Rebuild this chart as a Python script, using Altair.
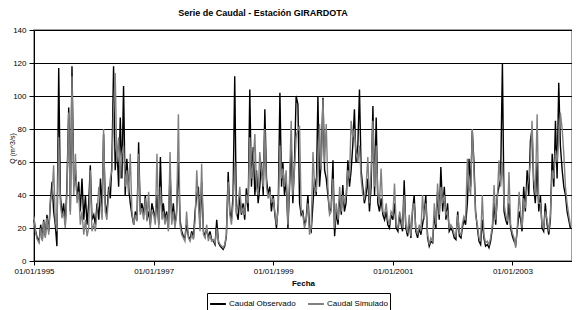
import altair as alt
import pandas as pd

years = [1995, 1996, 1997, 1998, 1999, 2000, 2001, 2002, 2003]
days = [1, 11, 21]

obs = {
    1995: [25, 18, 14, 12, 22, 13, 25, 15, 28, 18, 35, 48, 30, 22, 9, 117, 40, 28, 35, 22, 45, 93, 30, 118, 45, 55, 38, 48, 30, 50, 25, 40, 22, 35, 58, 25],
    1996: [28, 22, 35, 25, 50, 30, 77, 35, 28, 45, 38, 60, 118, 55, 70, 45, 87, 50, 106, 40, 62, 45, 35, 28, 22, 30, 25, 72, 30, 35, 28, 40, 25, 30, 22, 35],
    1997: [30, 25, 40, 22, 63, 28, 35, 25, 30, 20, 55, 25, 35, 22, 30, 60, 25, 18, 15, 14, 22, 15, 13, 18, 14, 30, 40, 45, 20, 48, 18, 15, 20, 14, 18, 13],
    1998: [12, 10, 25, 11, 9, 8, 7, 9, 15, 54, 30, 25, 40, 112, 30, 25, 40, 28, 35, 25, 44, 30, 104, 45, 69, 40, 55, 35, 45, 60, 40, 92, 50, 40, 45, 30],
    1999: [40, 28, 20, 35, 102, 45, 60, 40, 50, 20, 45, 70, 35, 60, 100, 95, 35, 28, 30, 22, 25, 40, 20, 18, 35, 50, 40, 100, 45, 60, 99, 55, 50, 40, 30, 32],
    2000: [61, 15, 30, 22, 40, 28, 46, 30, 35, 61, 45, 55, 70, 92, 60, 70, 104, 55, 45, 35, 40, 50, 30, 45, 94, 40, 87, 35, 30, 38, 28, 25, 30, 22, 20, 28],
    2001: [25, 35, 20, 18, 28, 22, 18, 49, 20, 15, 25, 14, 30, 40, 18, 14, 20, 16, 22, 28, 40, 14, 9, 12, 11, 28, 20, 42, 25, 57, 30, 45, 25, 35, 18, 20],
    2002: [18, 14, 13, 30, 15, 14, 20, 25, 22, 35, 62, 45, 79, 60, 30, 20, 12, 10, 25, 14, 9, 10, 8, 12, 20, 35, 22, 40, 45, 50, 120, 30, 25, 22, 35, 20],
    2003: [15, 12, 10, 20, 30, 25, 18, 45, 30, 55, 40, 73, 80, 45, 35, 60, 30, 40, 20, 18, 35, 22, 16, 25, 65, 45, 85, 50, 108, 70, 55, 45, 40, 30, 25, 20],
}

sim = {
    1995: [27, 17, 13, 11, 20, 12, 24, 14, 26, 16, 38, 40, 58, 25, 18, 75, 35, 26, 30, 20, 40, 90, 28, 112, 40, 65, 35, 42, 22, 30, 16, 25, 15, 20, 55, 18],
    1996: [22, 18, 30, 45, 35, 25, 80, 30, 25, 40, 50, 55, 90, 114, 60, 75, 50, 65, 70, 45, 55, 40, 65, 30, 22, 28, 24, 65, 28, 32, 25, 38, 24, 42, 20, 30],
    1997: [28, 22, 65, 20, 45, 25, 30, 22, 28, 18, 66, 22, 30, 20, 28, 89, 22, 16, 14, 12, 30, 14, 12, 16, 13, 25, 55, 35, 18, 59, 16, 14, 22, 12, 16, 12],
    1998: [13, 11, 20, 12, 10, 9, 8, 10, 16, 48, 28, 22, 35, 60, 28, 35, 45, 30, 32, 28, 40, 35, 75, 50, 60, 77, 45, 40, 66, 55, 45, 80, 45, 38, 42, 35],
    1999: [38, 30, 22, 32, 70, 50, 56, 45, 55, 22, 50, 85, 40, 55, 75, 80, 82, 30, 28, 20, 24, 35, 16, 20, 66, 45, 42, 60, 83, 55, 98, 60, 83, 45, 28, 30],
    2000: [50, 20, 35, 25, 45, 30, 40, 35, 40, 55, 50, 85, 75, 80, 65, 60, 70, 50, 40, 38, 45, 63, 35, 55, 85, 45, 70, 40, 35, 56, 30, 28, 35, 25, 22, 30],
    2001: [28, 47, 22, 20, 30, 25, 20, 40, 22, 17, 28, 15, 32, 35, 20, 16, 22, 18, 40, 25, 35, 16, 10, 14, 12, 35, 22, 47, 28, 45, 35, 40, 28, 30, 20, 22],
    2002: [20, 16, 15, 28, 17, 16, 22, 27, 25, 62, 45, 40, 80, 55, 28, 22, 14, 12, 40, 16, 11, 12, 10, 14, 22, 46, 25, 38, 61, 45, 60, 35, 28, 24, 54, 22],
    2003: [17, 14, 8, 22, 42, 28, 20, 38, 32, 45, 50, 60, 85, 50, 40, 89, 35, 35, 22, 20, 30, 25, 18, 28, 55, 50, 67, 60, 75, 90, 80, 65, 45, 35, 28, 22],
}

series_names = ["Caudal Observado", "Caudal Simulado"]
series_colors = ["#000000", "#808080"]
tick_years = [1995, 1997, 1999, 2001, 2003]
y_ticks = [0, 20, 40, 60, 80, 100, 120, 140]

rows = []
for name, src in zip(series_names, [obs, sim]):
    for y in years:
        vals = src[y]
        k = 0
        for m in range(1, 13):
            for d in days:
                rows.append({"fecha": f"{y}-{m:02d}-{d:02d}", "Q": vals[k], "serie": name})
                k += 1
df = pd.DataFrame(rows)

def ms(s):
    return int(pd.Timestamp(s).value // 10**6)

x_enc = alt.X(
    "fecha:T",
    scale=alt.Scale(type="utc", domain=[ms("1995-01-01"), ms("2003-12-31")], nice=False),
    axis=alt.Axis(
        title="Fecha", labelExpr="utcFormat(datum.value, '%d/%m/%Y')",
        values=[ms(f"{y}-01-01") for y in tick_years],
        grid=False, labelFontSize=8, titleFontSize=8, titleFontWeight="bold",
        tickSize=4, labelPadding=2, titlePadding=4, labelColor="black",
        domainColor="black", tickColor="black", labelFlush=False,
    ),
)
y_enc = alt.Y(
    "Q:Q",
    scale=alt.Scale(domain=[0, 140], nice=False),
    axis=alt.Axis(
        title="Q (m^3/s)", values=y_ticks, grid=True, gridColor="black",
        gridWidth=1, labelFontSize=8, titleFontSize=7, titleFontWeight="normal",
        tickSize=5, labelPadding=3, titleX=-19, titleY=118, labelColor="black",
        domainColor="black", tickColor="black",
    ),
)
color_enc = alt.Color(
    "serie:N",
    scale=alt.Scale(domain=series_names, range=series_colors),
    legend=alt.Legend(
        title=None, orient="none", legendX=173, legendY=263, direction="horizontal",
        strokeColor="black", padding=2, symbolType="stroke", symbolStrokeWidth=2,
        symbolSize=250, labelFontSize=8, columnPadding=8, labelLimit=200,
        fillColor="white", labelOffset=2,
    ),
)

base = alt.Chart(df).encode(x=x_enc, y=y_enc, color=color_enc)
l_obs = base.transform_filter(alt.datum.serie == series_names[0]).mark_line(strokeWidth=1.4)
l_sim = base.transform_filter(alt.datum.serie == series_names[1]).mark_line(strokeWidth=1.4)

chart = alt.layer(l_obs, l_sim).properties(
    width=538, height=231,
    title=alt.TitleParams("Serie de Caudal - Estación GIRARDOTA", fontSize=9, fontWeight="bold", dx=-40, offset=8),
    autosize=alt.AutoSizeParams(type="none"),
    padding={"left": 26, "top": 22, "right": 0, "bottom": 49},
).configure(font="Liberation Sans").configure_view(
    stroke="#808080", strokeWidth=1.5
).configure_axis(labelFont="Liberation Sans", titleFont="Liberation Sans")

chart.save("out.html", embed_options={"renderer": "svg", "actions": False})
